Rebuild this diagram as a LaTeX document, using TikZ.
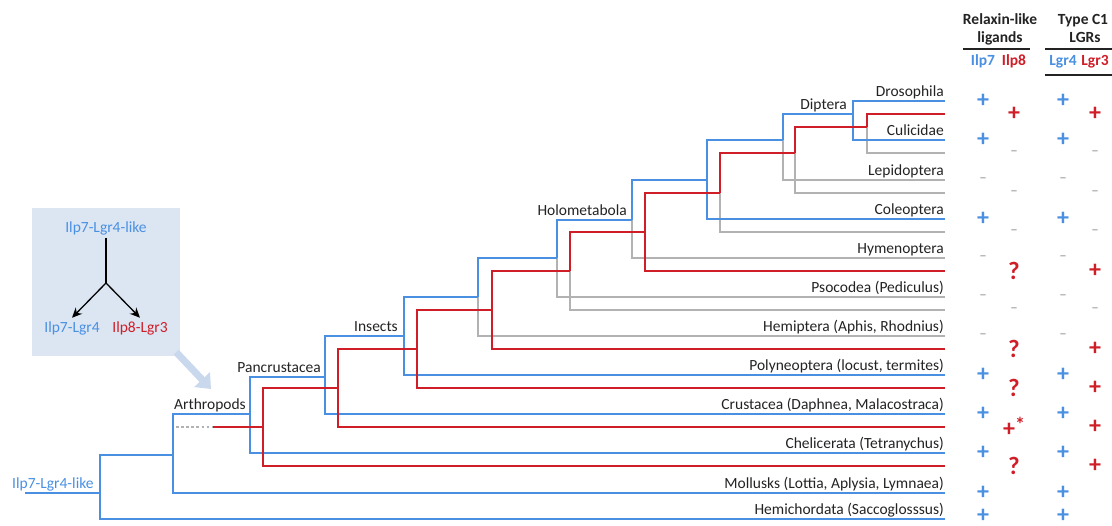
\documentclass[tikz,border=0pt]{standalone}
\usepackage{fontspec}
\setmainfont{Carlito}
\usetikzlibrary{arrows.meta}
\definecolor{lgblue}{RGB}{74,144,226}
\definecolor{lgred}{RGB}{208,30,40}
\definecolor{lggray}{RGB}{178,178,178}
\definecolor{lgbox}{RGB}{220,230,243}
\definecolor{lgpoint}{RGB}{202,216,237}
\definecolor{lgtext}{RGB}{35,35,35}
\begin{document}
\begin{tikzpicture}[x=1pt, y=-1pt,
    font=\fontsize{15.5}{18}\selectfont,
    branch/.style={line width=2.9pt},
    blu/.style={branch, draw=lgblue},
    rd/.style={branch, draw=lgred},
    gry/.style={branch, draw=lggray},
    tip/.style={anchor=base east, inner sep=0pt, text=lgtext},
    clade/.style={anchor=base east, inner sep=0pt, text=lgtext},
    head/.style={anchor=base, inner sep=0pt, text=lgtext, font=\fontsize{15.5}{18}\selectfont\bfseries},
    colhead/.style={anchor=base, inner sep=0pt, font=\fontsize{15.5}{18}\selectfont\bfseries},
    sym/.style={inner sep=0pt, font=\fontsize{24}{24}\selectfont\bfseries},
    query/.style={inner sep=0pt, text=lgred, font=\fontsize{25}{25}\selectfont\bfseries},
    nil/.style={inner sep=0pt, text=lggray, font=\fontsize{15}{15}\selectfont\bfseries},
    rule/.style={line width=2.4pt, draw=lgtext},
    fork/.style={line width=1.3pt, draw=black},
    pointer/.style={line width=7pt, draw=lgpoint, -{Triangle[length=13pt, width=21pt]}},
  ]
  \useasboundingbox (0,0) rectangle (1112,526);

  % inset
  \node[fill=lgbox, minimum width=148pt, minimum height=148pt, inner sep=0pt] (inset) at (106,282) {};
  \coordinate (ptr) at (211,389);
  \draw[pointer] ([xshift=-4pt, yshift=4pt]inset.south east) -- (ptr);
  \node[text=lgblue] (inTop) at (106,228) {Ilp7-Lgr4-like};
  \coordinate (inFork) at (106,283);
  \node[text=lgblue] (inL) at (72,328) {Ilp7-Lgr4};
  \node[text=lgred] (inR) at (140,328) {Ilp8-Lgr3};
  \draw[fork] (inTop.south) -- (inFork);
  \draw[fork, -{Stealth[length=10pt, width=9pt]}] (inFork) -- (inL.north);
  \draw[fork, -{Stealth[length=10pt, width=9pt]}] (inFork) -- (inR.north);

  % tips
  \foreach \n/\y in {1/101, 2/114, 3/140, 4/153, 5/180, 6/193, 7/219, 8/232, 9/258, 10/271, 11/297,
                     12/310, 13/336, 14/349, 15/375, 16/388, 17/414, 18/427, 19/453, 20/466, 21/493, 22/519}
    \coordinate (t\n) at (945,\y);

  % Ilp7-Lgr4 nodes
  \coordinate (root0) at (25,493);
  \coordinate (R)  at (100,493);
  \coordinate (A)  at (173,455);
  \coordinate (P)  at (250,414);
  \coordinate (I)  at (325,377);
  \coordinate (N1) at (404,336);
  \coordinate (N2) at (478,297);
  \coordinate (N3) at (557,258);
  \coordinate (N4) at (632,220);
  \coordinate (N5) at (707,180);
  \coordinate (N6) at (783,140);
  \coordinate (N7) at (853,114);

  % Ilp8-Lgr3 nodes
  \coordinate (d0)  at (176,427);
  \coordinate (d1)  at (213,427);
  \coordinate (RP)  at (263,427);
  \coordinate (RI)  at (338,388);
  \coordinate (RN1) at (417,349);
  \coordinate (RN2) at (492,310);
  \coordinate (RN3) at (570,271);
  \coordinate (RN4) at (645,232);
  \coordinate (RN5) at (720,193);
  \coordinate (RN6) at (795,153);
  \coordinate (RN7) at (867,127);

  % lost branches
  \draw[gry] (N2) |- (t13);
  \draw[gry] (N3) |- (t11);
  \draw[gry] (N4) |- (t9);
  \draw[gry] (N6) |- (t5);
  \draw[gry] (RN3) |- (t12);
  \draw[gry] (RN5) |- (t8);
  \draw[gry] (RN6) |- (t6);
  \draw[gry] (RN7) |- (t4);
  \draw[draw=lggray, line width=2pt, dash pattern=on 2.5pt off 2.6pt] (d0) -- (d1);

  \draw[blu] (root0) -- (R);
  \draw[blu] (R) |- (A);   \draw[blu] (R) |- (t22);
  \draw[blu] (A) |- (P);   \draw[blu] (A) |- (t21);
  \draw[blu] (P) |- (I);   \draw[blu] (P) |- (t19);
  \draw[blu] (I) |- (N1);  \draw[blu] (I) |- (t17);
  \draw[blu] (N1) |- (N2); \draw[blu] (N1) |- (t15);
  \draw[blu] (N2) |- (N3);
  \draw[blu] (N3) |- (N4);
  \draw[blu] (N4) |- (N5);
  \draw[blu] (N5) |- (N6); \draw[blu] (N5) |- (t7);
  \draw[blu] (N6) |- (N7);
  \draw[blu] (N7) |- (t1); \draw[blu] (N7) |- (t3);

  \draw[rd] (d1) -- (RP);
  \draw[rd] (RP) |- (RI);   \draw[rd] (RP) |- (t20);
  \draw[rd] (RI) |- (RN1);  \draw[rd] (RI) |- (t18);
  \draw[rd] (RN1) |- (RN2); \draw[rd] (RN1) |- (t16);
  \draw[rd] (RN2) |- (RN3); \draw[rd] (RN2) |- (t14);
  \draw[rd] (RN3) |- (RN4);
  \draw[rd] (RN4) |- (RN5); \draw[rd] (RN4) |- (t10);
  \draw[rd] (RN5) |- (RN6);
  \draw[rd] (RN6) |- (RN7);
  \draw[rd] (RN7) |- (t2);

  % labels
  \node[anchor=base west, inner sep=0pt, text=lgblue] (rootlab) at (12,489) {Ilp7-Lgr4-like};
  \node[clade, xshift=-4pt, yshift=4.5pt] (labArt) at (P)  {Arthropods};
  \node[clade, xshift=-4pt, yshift=4.5pt] (labPan) at (I)  {Pancrustacea};
  \node[clade, xshift=-6pt, yshift=4.5pt] (labIns) at (N1) {Insects};
  \node[clade, xshift=-5pt, yshift=4.5pt] (labHol) at (N4) {Holometabola};
  \node[clade, xshift=-6pt, yshift=4.5pt] (labDip) at (N7) {Diptera};
  \foreach \n/\txt in {1/Drosophila, 3/Culicidae, 5/Lepidoptera, 7/Coleoptera, 9/Hymenoptera,
                       11/{Psocodea (Pediculus)}, 13/{Hemiptera (Aphis, Rhodnius)},
                       15/{Polyneoptera (locust, termites)}, 17/{Crustacea (Daphnea, Malacostraca)},
                       19/{Chelicerata (Tetranychus)}, 21/{Mollusks (Lottia, Aplysia, Lymnaea)},
                       22/{Hemichordata (Saccoglosssus)}}
    \node[tip, xshift=-1pt, yshift=4.5pt] (lab\n) at (t\n) {\txt};

  % table
  \node[head] (hRel) at (1000,25) {Relaxin-like};
  \node[head] (hLig) at (1000,43) {ligands};
  \node[head] (hTyp) at (1083,25) {Type C1};
  \node[head] (hLgr) at (1085,43) {LGRs};
  \draw[rule] (963,49) -- (1030,49);
  \draw[rule] (1045,49) -- (1112,49);
  \draw[rule] (1045,75) -- (1112,75);
  \node[colhead, text=lgblue] (hIlpA) at (983,66)  {Ilp7};
  \node[colhead, text=lgred]  (hIlpB) at (1014,66) {Ilp8};
  \node[colhead, text=lgblue] (hLgrA) at (1063,66) {Lgr4};
  \node[colhead, text=lgred]  (hLgrB) at (1095,66) {Lgr3};

  \foreach \n in {1,3,7,15,17,19,21} {
    \node[sym, text=lgblue] (sA\n) at (hIlpA |- t\n) {+};
    \node[sym, text=lgblue] (sC\n) at (hLgrA |- t\n) {+};
  }
  \node[sym, text=lgblue, yshift=3.5pt] (sA22) at (hIlpA |- t22) {+};
  \node[sym, text=lgblue, yshift=3.5pt] (sC22) at (hLgrA |- t22) {+};
  \foreach \n in {5,9,11,13} {
    \node[nil] (sA\n) at (hIlpA |- t\n) {–};
    \node[nil] (sC\n) at (hLgrA |- t\n) {–};
  }
  \foreach \n in {4,6,8,12} {
    \node[nil] (sB\n) at (hIlpB |- t\n) {–};
    \node[nil] (sD\n) at (hLgrB |- t\n) {–};
  }
  \foreach \n in {10,14,16,20} {
    \node[query] (sB\n) at (hIlpB |- t\n) {?};
    \node[sym, text=lgred] (sD\n) at (hLgrB |- t\n) {+};
  }
  \node[sym, text=lgred] (sB2) at (hIlpB |- t2) {+};
  \node[sym, text=lgred] (sD2) at (hLgrB |- t2) {+};
  \node[sym, text=lgred] (sB18) at (hIlpB |- t18) {+\raisebox{5pt}{\fontsize{20}{20}\selectfont *}};
  \node[sym, text=lgred] (sD18) at (hLgrB |- t18) {+};
\end{tikzpicture}
\end{document}
